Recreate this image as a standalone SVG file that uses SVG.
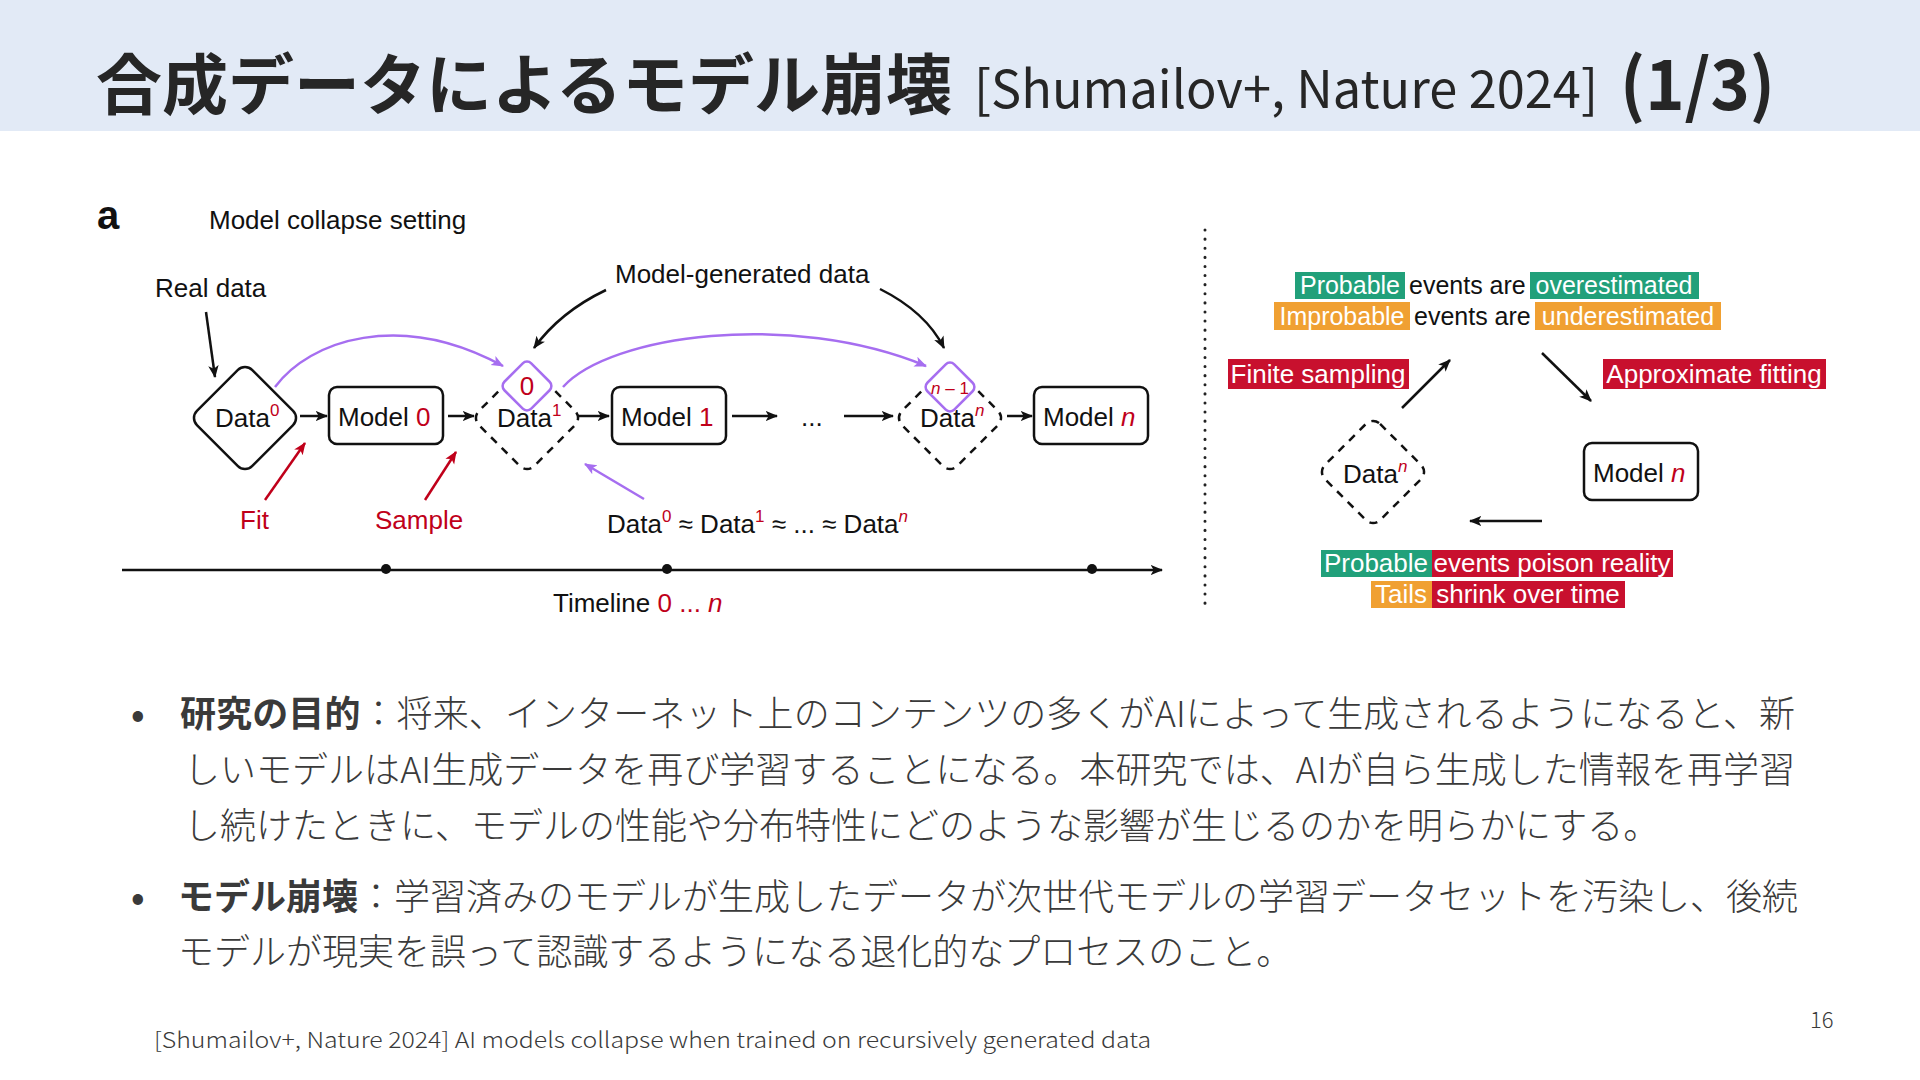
<svg xmlns="http://www.w3.org/2000/svg" width="1920" height="1080" viewBox="0 0 1920 1080">
<style>
.dg{font-family:"Liberation Sans",Arial,sans-serif;font-size:26px;fill:#111}
.s25{font-size:25px}
.sm{font-size:17px}
.red{fill:#C0001A}
.wt{fill:#ffffff}
.it{font-style:italic}
.sup{font-size:17px}
.jp{font-family:"Noto Sans CJK JP","Noto Sans",sans-serif;fill:#3a3a3a}
.box{fill:#fff;stroke:#111;stroke-width:2.5}
.dash{fill:#fff;stroke:#111;stroke-width:2.5;stroke-dasharray:8 7}
.pd{fill:#fff;stroke:#A66EF0;stroke-width:2.5}
.ln{fill:none;stroke:#111;stroke-width:2.5}
.pl{fill:none;stroke:#A66EF0;stroke-width:2.5}
.rl{fill:none;stroke:#C0001A;stroke-width:2.5}
.g{fill:#21A07A}
.o{fill:#F0A032}
.r{fill:#C8102E}
</style>
<defs>
<marker id="ah" viewBox="0 0 12 10" refX="11" refY="5" markerWidth="5" markerHeight="5" orient="auto" markerUnits="strokeWidth"><path d="M0,0 L12,5 L0,10 L3,5 z" fill="#111"/></marker>
<marker id="ap" viewBox="0 0 12 10" refX="11" refY="5" markerWidth="5" markerHeight="5" orient="auto" markerUnits="strokeWidth"><path d="M0,0 L12,5 L0,10 L3,5 z" fill="#A66EF0"/></marker>
<marker id="ar" viewBox="0 0 12 10" refX="11" refY="5" markerWidth="5" markerHeight="5" orient="auto" markerUnits="strokeWidth"><path d="M0,0 L12,5 L0,10 L3,5 z" fill="#C0001A"/></marker>
</defs>

<rect x="0" y="0" width="1920" height="131" fill="#E2EAF6"/>
<g id="title">
<text x="96" y="109" font-family="'Noto Sans CJK JP','Noto Sans',sans-serif" font-weight="700" font-size="66" fill="#262626">合成データによるモデル崩壊</text>
<text x="974" y="108" font-family="'Noto Sans CJK JP','Noto Sans',sans-serif" font-size="52" fill="#262626" textLength="624" lengthAdjust="spacingAndGlyphs">[Shumailov+, Nature 2024]</text>
<text x="1620" y="110" font-family="'Noto Sans CJK JP','Noto Sans',sans-serif" font-weight="700" font-size="70" fill="#262626" textLength="155" lengthAdjust="spacingAndGlyphs">(1/3)</text>
</g>

<g id="panel-a-label">
<text x="97" y="229" font-family="'Liberation Sans',Arial,sans-serif" font-weight="700" font-size="40" fill="#111">a</text>
<text class="dg" x="209" y="229">Model collapse setting</text>
<text class="dg" x="155" y="297">Real data</text>
<text class="dg" x="615" y="283">Model-generated data</text>
</g>

<g id="connectors">
<line class="ln" x1="206" y1="312" x2="215" y2="377" marker-end="url(#ah)"/>
<line class="ln" x1="300" y1="416" x2="327" y2="416" marker-end="url(#ah)"/>
<line class="ln" x1="448" y1="416" x2="474" y2="416" marker-end="url(#ah)"/>
<line class="ln" x1="577" y1="416" x2="609" y2="416" marker-end="url(#ah)"/>
<line class="ln" x1="732" y1="416" x2="777" y2="416" marker-end="url(#ah)"/>
<line class="ln" x1="844" y1="416" x2="893" y2="416" marker-end="url(#ah)"/>
<line class="ln" x1="1007" y1="416" x2="1032" y2="416" marker-end="url(#ah)"/>
<path class="pl" d="M275,387 C310,340 400,310 503,366" marker-end="url(#ap)"/>
<path class="pl" d="M563,387 C610,335 790,310 926,366" marker-end="url(#ap)"/>
<line class="pl" x1="644" y1="499" x2="585" y2="464" marker-end="url(#ap)"/>
<path class="ln" d="M606,290 Q560,312 534,348" marker-end="url(#ah)"/>
<path class="ln" d="M880,289 Q926,312 944,348" marker-end="url(#ah)"/>
<line class="rl" x1="265" y1="500" x2="305" y2="443" marker-end="url(#ar)"/>
<line class="rl" x1="425" y1="500" x2="456" y2="452" marker-end="url(#ar)"/>
<line class="ln" x1="122" y1="570" x2="1162" y2="570" marker-end="url(#ah)"/>
<circle cx="386" cy="569" r="5" fill="#111"/>
<circle cx="667" cy="569" r="5" fill="#111"/>
<circle cx="1092" cy="569" r="5" fill="#111"/>
<line x1="1205" y1="230" x2="1205" y2="612" stroke="#222" stroke-width="3" stroke-linecap="round" stroke-dasharray="0.1 9"/>
<line class="ln" x1="1402" y1="408" x2="1450" y2="360" marker-end="url(#ah)"/>
<line class="ln" x1="1542" y1="353" x2="1591" y2="401" marker-end="url(#ah)"/>
<line class="ln" x1="1542" y1="521" x2="1470" y2="521" marker-end="url(#ah)"/>
</g>

<g id="data0">
<rect class="box" x="-39" y="-39" width="78" height="78" rx="10" transform="translate(245,418) rotate(45)"/>
<text class="dg" x="215" y="427">Data<tspan class="sup red" dy="-11">0</tspan></text>
</g>
<g id="model0">
<rect class="box" x="329" y="387" width="114" height="57" rx="8"/>
<text class="dg" x="338" y="426">Model <tspan class="red">0</tspan></text>
</g>
<g id="data1">
<rect class="dash" x="-39" y="-39" width="78" height="78" rx="10" transform="translate(527,418) rotate(45)"/>
<rect class="pd" x="-19" y="-19" width="38" height="38" rx="6" transform="translate(527,386) rotate(45)"/>
<text class="dg red" x="527" y="395" text-anchor="middle">0</text>
<text class="dg" x="497" y="427">Data<tspan class="sup red" dy="-11">1</tspan></text>
</g>
<g id="model1">
<rect class="box" x="612" y="387" width="114" height="57" rx="8"/>
<text class="dg" x="621" y="426">Model <tspan class="red">1</tspan></text>
</g>
<g id="ellipsis">
<text class="dg" x="801" y="426">...</text>
</g>
<g id="datan">
<rect class="dash" x="-39" y="-39" width="78" height="78" rx="10" transform="translate(950,418) rotate(45)"/>
<rect class="pd" x="-19" y="-19" width="38" height="38" rx="6" transform="translate(950,387) rotate(45)"/>
<text class="dg sm red" x="950" y="394" text-anchor="middle"><tspan class="it">n</tspan> – 1</text>
<text class="dg" x="920" y="427">Data<tspan class="sup red it" dy="-11">n</tspan></text>
</g>
<g id="modeln">
<rect class="box" x="1034" y="387" width="114" height="57" rx="8"/>
<text class="dg" x="1043" y="426">Model <tspan class="red it">n</tspan></text>
</g>
<g id="labels-a">
<text class="dg red" x="240" y="529">Fit</text>
<text class="dg red" x="375" y="529">Sample</text>
<text class="dg" x="607" y="533">Data<tspan class="sup red" dy="-11">0</tspan><tspan dy="11"> ≈ Data</tspan><tspan class="sup red" dy="-11">1</tspan><tspan dy="11"> ≈ ... ≈ Data</tspan><tspan class="sup red it" dy="-11">n</tspan></text>
<text class="dg" x="553" y="612">Timeline <tspan class="red">0 ... </tspan><tspan class="red it">n</tspan></text>
</g>

<g id="cycle-top">
<rect class="g" x="1295" y="272" width="110" height="27"/>
<text class="dg s25 wt" x="1350" y="294" text-anchor="middle">Probable</text>
<text class="dg s25" x="1409" y="294">events are</text>
<rect class="g" x="1530" y="272" width="169" height="27"/>
<text class="dg s25 wt" x="1614" y="294" text-anchor="middle">overestimated</text>
<rect class="o" x="1274" y="302" width="136" height="28"/>
<text class="dg s25 wt" x="1342" y="325" text-anchor="middle">Improbable</text>
<text class="dg s25" x="1414" y="325">events are</text>
<rect class="o" x="1535" y="302" width="186" height="28"/>
<text class="dg s25 wt" x="1628" y="325" text-anchor="middle">underestimated</text>
</g>
<g id="finite-sampling">
<rect class="r" x="1228" y="359" width="181" height="30"/>
<text class="dg wt" x="1318" y="383" text-anchor="middle">Finite sampling</text>
</g>
<g id="approx-fitting">
<rect class="r" x="1603" y="359" width="223" height="30"/>
<text class="dg wt" x="1714" y="383" text-anchor="middle">Approximate fitting</text>
</g>
<g id="datan-cycle">
<rect class="dash" x="-39" y="-39" width="78" height="78" rx="10" transform="translate(1373,472) rotate(45)"/>
<text class="dg" x="1343" y="483">Data<tspan class="sup red it" dy="-11">n</tspan></text>
</g>
<g id="modeln-cycle">
<rect class="box" x="1584" y="443" width="114" height="57" rx="8"/>
<text class="dg" x="1593" y="482">Model <tspan class="red it">n</tspan></text>
</g>
<g id="cycle-bottom">
<rect class="g" x="1321" y="550" width="111" height="27"/>
<text class="dg wt" x="1376" y="572" text-anchor="middle">Probable</text>
<rect class="r" x="1432" y="550" width="241" height="27"/>
<text class="dg wt" x="1552" y="572" text-anchor="middle">events poison reality</text>
<rect class="o" x="1371" y="581" width="61" height="27"/>
<text class="dg wt" x="1401" y="603" text-anchor="middle">Tails</text>
<rect class="r" x="1432" y="581" width="193" height="27"/>
<text class="dg wt" x="1528" y="603" text-anchor="middle">shrink over time</text>
</g>

<g id="body">
<text class="jp" x="131" y="727" font-size="36" font-weight="700">•</text>
<text class="jp" x="180" y="727" font-size="36" font-weight="300" textLength="1615" lengthAdjust="spacing"><tspan font-weight="700">研究の目的</tspan>：将来、インターネット上のコンテンツの多くがAIによって生成されるようになると、新</text>
<text class="jp" x="184" y="783" font-size="36" font-weight="300" textLength="1611" lengthAdjust="spacing">しいモデルはAI生成データを再び学習することになる。本研究では、AIが自ら生成した情報を再学習</text>
<text class="jp" x="184" y="839" font-size="36" font-weight="300">し続けたときに、モデルの性能や分布特性にどのような影響が生じるのかを明らかにする。</text>
<text class="jp" x="131" y="910" font-size="36" font-weight="700">•</text>
<text class="jp" x="178" y="910" font-size="36" font-weight="300" textLength="1620" lengthAdjust="spacing"><tspan font-weight="700">モデル崩壊</tspan>：学習済みのモデルが生成したデータが次世代モデルの学習データセットを汚染し、後続</text>
<text class="jp" x="178" y="965" font-size="36" font-weight="300">モデルが現実を誤って認識するようになる退化的なプロセスのこと。</text>
</g>
<g id="footer">
<text class="jp" x="154" y="1048" font-size="22" font-weight="300" textLength="997" lengthAdjust="spacingAndGlyphs">[Shumailov+, Nature 2024] AI models collapse when trained on recursively generated data</text>
<text class="jp" x="1810" y="1028" font-size="22" font-weight="300" fill="#595959">16</text>
</g>
</svg>
